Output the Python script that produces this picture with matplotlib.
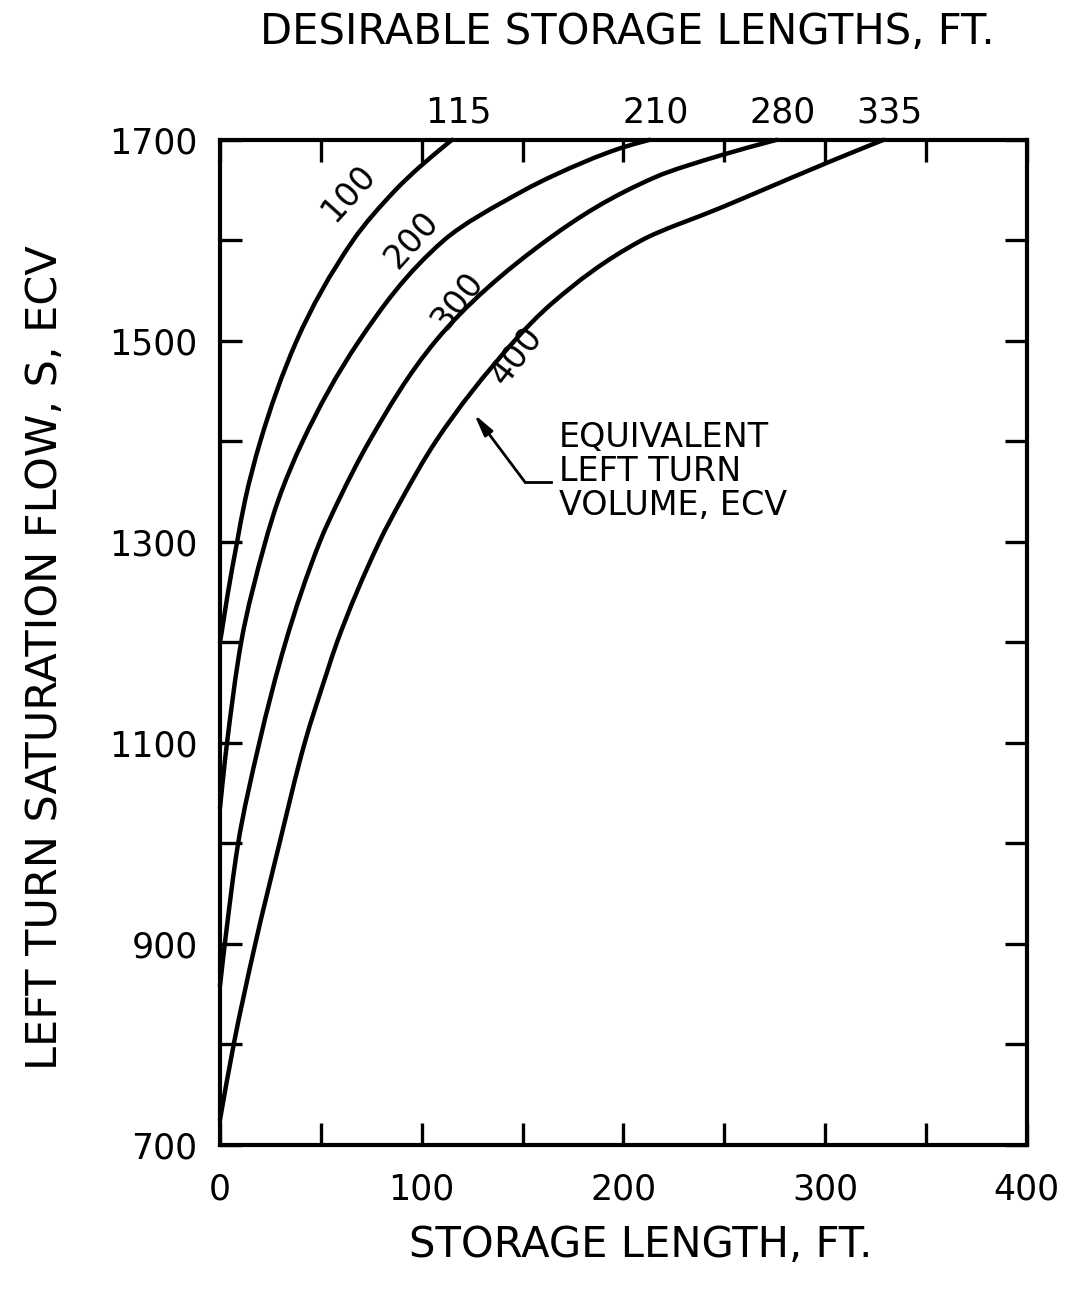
import matplotlib
matplotlib.use("Agg")
import matplotlib.pyplot as plt
from matplotlib.ticker import MultipleLocator
from matplotlib.path import Path
from matplotlib.patches import PathPatch
import numpy as np

plt.rcParams['font.family'] = ['DejaVu Sans']

# ---- data (storage length ft, saturation flow ECV) ----
ecv_levels = ["100", "200", "300", "400"]

c100_y = [1200, 1212, 1250, 1300, 1342, 1400, 1500, 1600, 1650, 1673, 1700]
c100_x = [0, 1, 4, 8.5, 12.5, 20, 38, 66, 87, 99, 115]

c200_y = [1035, 1083, 1100, 1200, 1300, 1342, 1400, 1500, 1600, 1650, 1665, 1692, 1700]
c200_x = [0, 2.5, 3.5, 10.5, 22.5, 29, 41, 69, 111, 151, 166, 199, 213]

c300_y = [858, 867, 910, 1000, 1100, 1200, 1300, 1342, 1400, 1500, 1603, 1663, 1685, 1700]
c300_x = [0, 0.5, 3, 9, 19.5, 32.5, 49.5, 59, 74, 107, 164, 216, 249, 276]

c400_y = [725, 802, 900, 1000, 1100, 1170, 1200, 1300, 1342, 1400, 1500, 1538, 1600, 1633, 1650, 1678, 1700]
c400_x = [0, 7, 17.5, 29.5, 42, 53, 58, 79, 90, 107, 146, 165, 209, 249, 269, 302, 329]

desirable_labels = ["115", "210", "280", "335"]

x_ticks = [0, 100, 200, 300, 400]
y_ticks = [700, 900, 1100, 1300, 1500, 1700]

curves = [(c100_x, c100_y), (c200_x, c200_y), (c300_x, c300_y), (c400_x, c400_y)]

# curve label placement (x, y, rotation)
curve_label_pos = [(64, 1647, 48), (95, 1600, 48), (118, 1540, 52), (147, 1485, 52)]


def pchip_slopes(t, v):
    t = np.asarray(t, float)
    v = np.asarray(v, float)
    h = np.diff(t)
    d = np.diff(v) / h
    n = len(t)
    m = np.zeros(n)
    for k in range(1, n - 1):
        if d[k - 1] * d[k] <= 0:
            m[k] = 0.0
        else:
            w1 = 2 * h[k] + h[k - 1]
            w2 = h[k] + 2 * h[k - 1]
            m[k] = (w1 + w2) / (w1 / d[k - 1] + w2 / d[k])
    m[0] = d[0]
    m[-1] = d[-1]
    return m


def smooth_path(xs, ys):
    """Monotone cubic (x as a function of y) written as Bezier segments
    through the read points."""
    y = np.asarray(ys, float)
    x = np.asarray(xs, float)
    m = pchip_slopes(y, x)
    verts = [(x[0], y[0])]
    codes = [Path.MOVETO]
    for i in range(len(y) - 1):
        h = y[i + 1] - y[i]
        verts += [(x[i] + m[i] * h / 3, y[i] + h / 3),
                  (x[i + 1] - m[i + 1] * h / 3, y[i + 1] - h / 3),
                  (x[i + 1], y[i + 1])]
        codes += [Path.CURVE4] * 3
    return Path(verts, codes)


# ---- figure ----
fig = plt.figure(figsize=(10.73, 12.92), dpi=100)
ax = fig.add_axes([0.205, 0.1138, 0.752, 0.778])

for cx, cy in curves:
    patch = PathPatch(smooth_path(cx, cy), facecolor='none', edgecolor='black',
                      lw=3.2, capstyle='round', joinstyle='round', zorder=3,
                      clip_on=False)
    ax.add_patch(patch)

for lab, (lx, ly, rot) in zip(ecv_levels, curve_label_pos):
    ax.text(lx, ly, lab, rotation=rot, fontsize=24, ha='center', va='center',
            rotation_mode='anchor')

ax.set_xlim(0, 400)
ax.set_ylim(700, 1700)

ax.set_xticks(x_ticks)
ax.set_xticklabels([str(v) for v in x_ticks])
ax.xaxis.set_minor_locator(MultipleLocator(50))
ax.set_yticks(y_ticks)
ax.set_yticklabels([str(v) for v in y_ticks])
ax.yaxis.set_minor_locator(MultipleLocator(100))

ax.tick_params(which='both', direction='in', length=16, width=2.4,
               top=True, right=True, labelsize=25, color='black')
ax.tick_params(axis='x', which='major', pad=20)
ax.tick_params(axis='y', which='major', pad=16)

for sp in ax.spines.values():
    sp.set_linewidth(3)

# top "desirable storage lengths" labels at curve endpoints
for lab, (cx, cy) in zip(desirable_labels, curves):
    ax.text(cx[-1] + 3, cy[-1] + 10, lab, fontsize=25, ha='center', va='bottom',
            clip_on=False)

# annotation
ax.text(168, 1370, "EQUIVALENT\nLEFT TURN\nVOLUME, ECV", fontsize=24,
        ha='left', va='center', linespacing=1.05)
ax.plot([164, 151], [1360, 1360], color='black', lw=2)
ax.annotate("", xy=(126, 1427), xytext=(151, 1360),
            arrowprops=dict(arrowstyle='-|>,head_length=1.3,head_width=0.3',
                            color='black', lw=2, shrinkA=0, shrinkB=0))

# axis titles
fig.text(0.597, 1 - 1245 / 1292, "STORAGE LENGTH, FT.", fontsize=30,
         ha='center', va='center')
fig.text(0.585, 1 - 32 / 1292, "DESIRABLE STORAGE LENGTHS, FT.", fontsize=30,
         ha='center', va='center')
fig.text(0.042, 0.491, "LEFT TURN SATURATION FLOW, S, ECV", fontsize=31,
         ha='center', va='center', rotation=90)

fig.savefig("out.png", dpi=100, facecolor='white')
